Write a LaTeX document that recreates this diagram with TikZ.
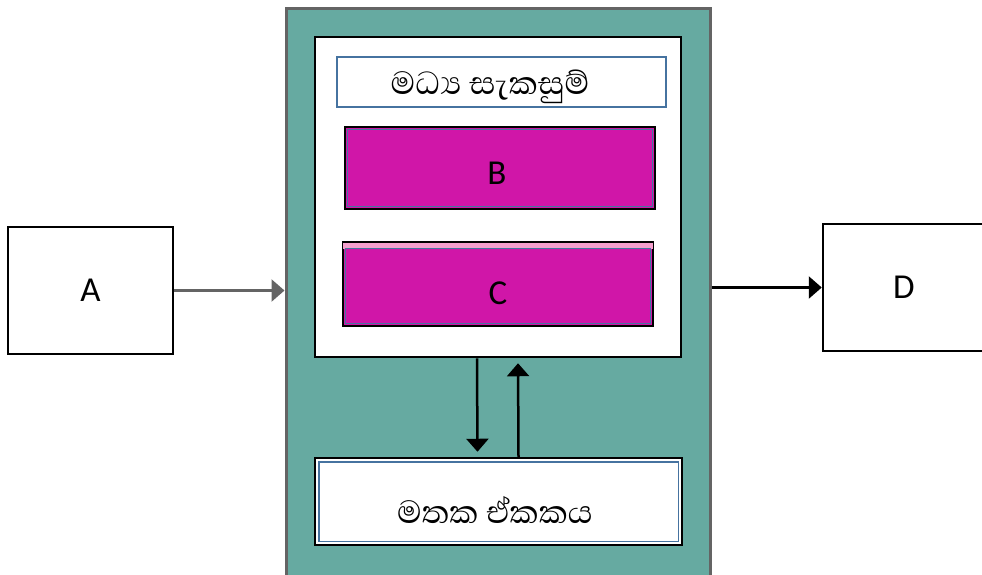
\documentclass[tikz,border=0pt]{standalone}
\usepackage{fontspec}
\setmainfont{Carlito}
\newfontfamily\sinhala[Script=Sinhala]{Abhaya Libre}
\usetikzlibrary{arrows.meta}
\definecolor{tealbg}{RGB}{102,170,161}
\definecolor{magbox}{RGB}{208,22,168}
\definecolor{blueline}{RGB}{70,115,160}
\definecolor{pinkstrip}{RGB}{245,160,205}
\definecolor{greyline}{RGB}{100,100,100}
\begin{document}
\begin{tikzpicture}[x=1pt,y=-1pt,
  box/.style={draw=black,line width=2.5pt,fill=white,inner sep=0pt,font=\fontsize{35}{40}\selectfont},
  regbox/.style={box,fill=magbox},
  sibox/.style={draw=blueline,line width=1.5pt,fill=white,inner sep=0pt},
  sitext/.style={font=\sinhala\fontsize{41}{45}\selectfont,inner sep=0pt},
  lettertext/.style={font=\fontsize{35}{40}\selectfont,inner sep=0pt},
  arr/.style={line width=2.5pt,-{Triangle[width=22pt,length=13pt]}}]
\useasboundingbox (0,0) rectangle (982,574);
% outer unit
\node[draw=greyline,line width=3pt,fill=tealbg,minimum width=424,minimum height=582,inner sep=0pt] (outer) at (498,299) {};
\node[box,minimum width=366,minimum height=320] (cpu) at (498,197) {};
\node[sibox,minimum width=329,minimum height=50] (title) at (501.5,82) {};
\node[sitext] (titletext) at (490,87) {මධ්‍ය සැකසුම්};
\node[regbox,minimum width=310,minimum height=82] (B) at (500,168) {};
\draw[blueline,line width=1.2pt] ([shift={(4,4)}]B.north west) rectangle ([shift={(-4,-4)}]B.south east);
\node[lettertext] (Btext) at (497,173) {B};
\node[regbox,minimum width=310,minimum height=84] (C) at (498,284) {};
\fill[pinkstrip] ([shift={(1.5,2)}]C.north west) rectangle ([shift={(-1.5,8)}]C.north east);
\draw[blueline,line width=1.2pt] ([shift={(4,8)}]C.north west) rectangle ([shift={(-4,-4)}]C.south east);
\node[lettertext] (Ctext) at (498,293) {C};
% memory
\node[box,minimum width=367,minimum height=87] (mem) at (498.5,501.5) {};
\draw[blueline,line width=1.5pt] ([shift={(5,5)}]mem.north west) rectangle ([shift={(-5,-5)}]mem.south east);
\node[sitext] (memtext) at (495,510) {මතක ඒකකය};
\draw[arr,shorten >=5pt] ([xshift=-21pt]cpu.south) -- ([xshift=-21pt]mem.north);
\draw[arr,shorten >=5pt] ([xshift=20pt]mem.north) -- ([xshift=20pt]cpu.south);
% input and output
\node[box,minimum width=165,minimum height=127] (A) at (90.5,290.5) {A};
\node[box,minimum width=162,minimum height=127] (D) at (904,287.5) {D};
\draw[arr,draw=greyline] (A.east) -- (A.east -| outer.west);
\draw[arr] (D.west -| outer.east) -- (D.west);
\end{tikzpicture}
\end{document}
